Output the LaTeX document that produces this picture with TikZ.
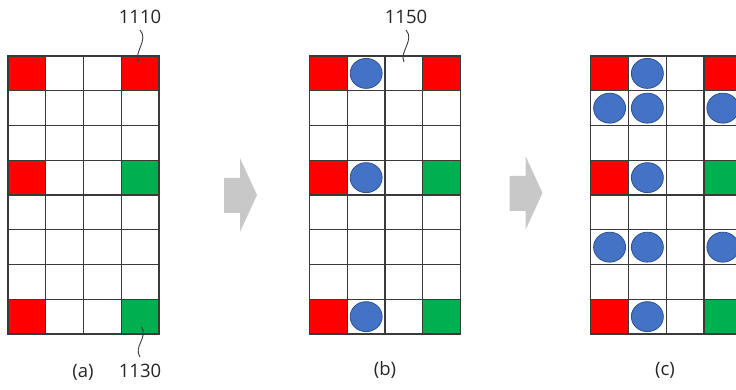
\documentclass[tikz,border=0pt]{standalone}
\usepackage{fontspec}
\setmainfont{Open Sans}
\usepackage{tikz}
\usepackage{xcolor}
\usetikzlibrary{positioning, calc}
\definecolor{cellRed}  {HTML}{FF0000}
\definecolor{cellGreen}{HTML}{00B050}
\definecolor{dotBlue}  {HTML}{4472C4}
\definecolor{dotEdge}  {HTML}{2F528F}
\definecolor{gridInk}  {HTML}{3A3A3A}
\definecolor{flowGray} {HTML}{C8C8C8}

\tikzset{
  gridline/.style={draw=gridInk, line width=1.2pt, line cap=rect},
  dot/.style={fill=dotBlue, draw=dotEdge, line width=0.8pt},
  leader/.style={draw=gridInk, line width=0.9pt},
  flowarrow/.style={fill=flowGray},
  reflabel/.style={font=\fontsize{18.5}{22}\selectfont, text=black!85, inner sep=0pt},
}

\begin{document}
\begin{tikzpicture}[x=1pt, y=-1pt]
  \useasboundingbox (0,0) rectangle (736,390);
  \clip (0,0) rectangle (736,390);

  % three 4x8 grids, same corner cells in each
  \foreach \gx in {8, 309.5, 590.7}{
    \foreach \c/\r/\col in
      {0/0/cellRed, 3/0/cellRed, 0/3/cellRed, 3/3/cellGreen,
       0/7/cellRed, 3/7/cellGreen}{
      \fill[\col] (\gx+\c*37.75, 56+\r*34.75) rectangle ++(37.75, 34.75);
    }
    \foreach \c in {0,...,4}
      \draw[gridline] (\gx+\c*37.75, 56) -- ++(0, 278);
    \foreach \r in {0,...,8}
      \draw[gridline] (\gx, 56+\r*34.75) -- ++(151, 0);
  }

  % blue dots: grid offset / column / row
  \foreach \gx/\c/\r in
    {309.5/1/0, 309.5/1/3, 309.5/1/7,
     590.7/1/0, 590.7/0/1, 590.7/1/1, 590.7/3/1, 590.7/1/3,
     590.7/0/5, 590.7/1/5, 590.7/3/5, 590.7/1/7}{
    \draw[dot] (\gx+\c*37.75+18.9, 56+\r*34.75+17.4) ellipse [x radius=16pt, y radius=15pt];
  }

  % block arrows between the grids
  \foreach \ax/\ay in {224/158, 509.5/156}{
    \fill[flowarrow] (\ax, \ay+20) -- (\ax+16, \ay+20) -- (\ax+16, \ay)
      -- (\ax+33, \ay+37) -- (\ax+16, \ay+74) -- (\ax+16, \ay+55)
      -- (\ax, \ay+55) -- cycle;
  }

  % reference numerals and captions
  \node[reflabel] (lbl1110) at (140,17) {1110};
  \node[reflabel] (lbl1130) at (140,371) {1130};
  \node[reflabel] (lbl1150) at (406,17) {1150};
  \node[reflabel] (capA) at (83,372) {(a)};
  \node[reflabel] (capB) at (385,370) {(b)};
  \node[reflabel] (capC) at (665,370) {(c)};

  \coordinate (tip1110) at (138.5,62);
  \coordinate (tip1130) at (141.5,327);
  \coordinate (tip1150) at (404,62);

  \draw[leader] ([yshift=-6pt]lbl1110.south) .. controls +(9,10) and +(-5,-10) .. (tip1110);
  \draw[leader] ([yshift=7pt]lbl1130.north) .. controls +(-7,-10) and +(7,10) .. (tip1130);
  \draw[leader] ([yshift=-6pt]lbl1150.south) .. controls +(9,10) and +(-5,-10) .. (tip1150);
\end{tikzpicture}
\end{document}
